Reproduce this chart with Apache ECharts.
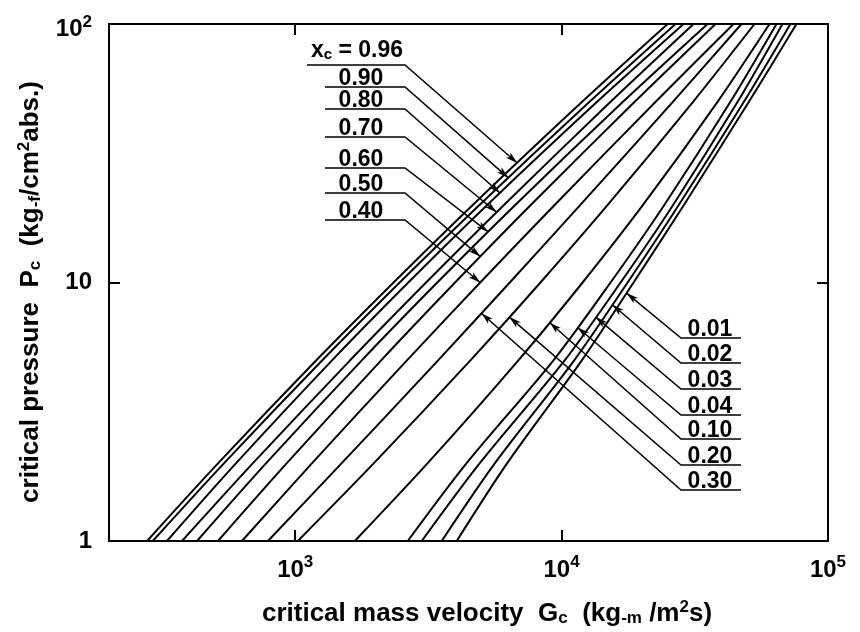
<!DOCTYPE html>
<html>
<head>
<meta charset="utf-8">
<script src="https://cdn.jsdelivr.net/npm/echarts@6/dist/echarts.min.js"></script>
<style>
  html, body { margin: 0; padding: 0; background: #fff; }
  #chart { width: 860px; height: 632px; }
</style>
</head>
<body>
<div id="chart"></div>
<script>
// Critical pressure levels (kg-f/cm2 abs.) at which each curve is sampled
const pressureLevels = [1, 2, 5, 10, 20, 50, 100];

// Critical mass velocity (kg-m/m2 s) for each quality x_c, at the pressure levels above
const g096 = [278, 514, 1200, 2340, 4650, 11940, 25000];
const g090 = [292, 541, 1264, 2467, 4928, 12730, 26780];
const g080 = [330, 600, 1375, 2657, 5270, 13590, 28700];
const g070 = [376, 694, 1607, 3099, 6089, 15270, 31280];
const g060 = [428, 778, 1778, 3414, 6712, 17000, 35310];
const g050 = [513, 930, 2102, 3981, 7675, 18810, 37830];
const g040 = [631, 1157, 2627, 4949, 9434, 22550, 44190];
const g030 = [790, 1495, 3438, 6390, 11780, 26160, 47350];
const g020 = [1023, 1974, 4547, 8330, 14920, 31150, 52980];
const g010 = [1674, 3142, 6882, 11990, 20240, 38490, 60310];
const g004 = [2646, 4400, 9321, 15270, 24330, 43030, 64070];
const g003 = [2986, 4930, 10270, 16650, 26250, 45790, 67470];
const g002 = [3549, 5620, 11150, 17690, 27570, 48340, 72280];
const g001 = [4040, 6250, 11910, 18630, 28820, 50470, 76150];

// Quality labels, left-hand callouts (top to bottom) and right-hand callouts (top to bottom)
const leftQualities  = ['0.96', '0.90', '0.80', '0.70', '0.60', '0.50', '0.40'];
const leftCurves     = [g096, g090, g080, g070, g060, g050, g040];
const leftArrowP     = [29, 25.4, 22.2, 18.7, 15.7, 12.6, 10.0];   // pressure where each arrow meets its curve
const rightQualities = ['0.01', '0.02', '0.03', '0.04', '0.10', '0.20', '0.30'];
const rightCurves    = [g001, g002, g003, g004, g010, g020, g030];
const rightArrowP    = [9.1, 8.2, 7.35, 6.7, 7.0, 7.35, 7.6];

// Axis range and labelled decades
const xRange = [200, 100000];
const yRange = [1, 100];
const xDecades = [1000, 10000, 100000];
const yDecades = [1, 10, 100];

const FONT = '"Liberation Sans", Arial, Helvetica, sans-serif';
const allCurves = [g096, g090, g080, g070, g060, g050, g040, g030, g020, g010, g004, g003, g002, g001];

const chart = echarts.init(document.getElementById('chart'), null, { renderer: 'canvas' });

function isDecade(v, list) {
  return list.some(d => Math.abs(v - d) < d * 1e-6);
}
function powLabel(v) {
  const e = Math.round(Math.log10(v));
  if (e === 0) return '{b|1}';
  if (e === 1) return '{b|10}';
  return '{b|10}{s|' + e + '}';
}
const tickRich = {
  b: { fontFamily: FONT, fontWeight: 'bold', fontSize: 24, color: '#000', lineHeight: 28 },
  s: { fontFamily: FONT, fontWeight: 'bold', fontSize: 17, color: '#000', padding: [0, 0, 15, 0] }
};
const yTickRich = {
  b: { fontFamily: FONT, fontWeight: 'bold', fontSize: 24, color: '#000', lineHeight: 28 },
  s: { fontFamily: FONT, fontWeight: 'bold', fontSize: 17, color: '#000', padding: [0, 0, 15, 0] },
  bt: { fontFamily: FONT, fontWeight: 'bold', fontSize: 24, color: '#000', padding: [11, 0, 0, 0] },
  st: { fontFamily: FONT, fontWeight: 'bold', fontSize: 17, color: '#000', padding: [0, 0, 4, 0] }
};

const frameLine = { show: true, lineStyle: { color: '#000', width: 2 } };
const frameTick = { show: true, inside: true, length: 11, lineStyle: { color: '#000', width: 2 } };

const series = allCurves.map(g => ({
  type: 'line',
  data: pressureLevels.map((p, i) => [g[i], p]),
  showSymbol: false,
  smooth: 0.3,
  silent: true,
  animation: false,
  lineStyle: { color: '#000', width: 2 }
}));

chart.setOption({
  animation: false,
  backgroundColor: '#fff',
  grid: { left: 109, right: 32, top: 24, bottom: 91 },
  xAxis: [
    {
      type: 'log', min: xRange[0], max: xRange[1], position: 'bottom',
      axisLine: frameLine, axisTick: frameTick, splitLine: { show: false },
      axisLabel: {
        margin: 13,
        formatter: v => isDecade(v, xDecades) ? powLabel(v) : '',
        rich: tickRich
      }
    },
    {
      type: 'log', min: xRange[0], max: xRange[1], position: 'top',
      axisLine: frameLine, axisTick: frameTick, splitLine: { show: false },
      axisLabel: { show: false }
    }
  ],
  yAxis: [
    {
      type: 'log', min: yRange[0], max: yRange[1], position: 'left',
      axisLine: frameLine, axisTick: frameTick, splitLine: { show: false },
      axisLabel: {
        margin: 17,
        formatter: v => {
          if (!isDecade(v, yDecades)) return '';
          return Math.round(Math.log10(v)) === 2 ? '{bt|10}{st|2}' : powLabel(v);
        },
        rich: yTickRich
      }
    },
    {
      type: 'log', min: yRange[0], max: yRange[1], position: 'right',
      axisLine: frameLine, axisTick: frameTick, splitLine: { show: false },
      axisLabel: { show: false }
    }
  ],
  series: series
});

// Value of mass velocity on a curve at pressure p, interpolated in log-log space
function gOnCurve(g, p) {
  const lp = Math.log10(p);
  for (let i = 0; i < pressureLevels.length - 1; i++) {
    const a = Math.log10(pressureLevels[i]), b = Math.log10(pressureLevels[i + 1]);
    if (lp >= a && lp <= b) {
      const t = (lp - a) / (b - a);
      return Math.pow(10, Math.log10(g[i]) + t * (Math.log10(g[i + 1]) - Math.log10(g[i])));
    }
  }
  return g[g.length - 1];
}

function arrowHead(from, tip) {
  const dx = tip[0] - from[0], dy = tip[1] - from[1];
  const len = Math.hypot(dx, dy);
  const ux = dx / len, uy = dy / len;
  const L = 12, W = 3.4;
  const bx = tip[0] - ux * L, by = tip[1] - uy * L;
  return [tip, [bx - uy * W, by + ux * W], [tip[0] - ux * (L - 3), tip[1] - uy * (L - 3)], [bx + uy * W, by - ux * W]];
}

const labelRich = {
  t: { fontFamily: FONT, fontWeight: 'bold', fontSize: 23, fill: '#000' },
  sub: { fontFamily: FONT, fontWeight: 'bold', fontSize: 15, fill: '#000', padding: [8, 0, 0, 0] }
};

const graphics = [];

// Left callouts: text sits on an underline whose right end leads to the curve
const leftRows = [65, 87, 109, 137, 168, 193, 220];
leftQualities.forEach((q, i) => {
  const uy = leftRows[i];
  const x0 = i === 0 ? 307 : 325, x1 = 405;
  const tip = chart.convertToPixel({ xAxisIndex: 0, yAxisIndex: 0 },
    [gOnCurve(leftCurves[i], leftArrowP[i]), leftArrowP[i]]);
  graphics.push({
    type: 'polyline', silent: true,
    shape: { points: [[x0, uy], [x1, uy], tip] },
    style: { stroke: '#000', lineWidth: 1.5, fill: null }
  });
  graphics.push({
    type: 'polygon', silent: true,
    shape: { points: arrowHead([x1, uy], tip) },
    style: { fill: '#000' }
  });
  graphics.push({
    type: 'text', silent: true,
    style: {
      x: i === 0 ? 357 : 361, y: i === 0 ? uy - 3 : uy + 3,
      text: i === 0 ? '{t|x}{sub|c}{t| = ' + q + '}' : '{t|' + q + '}',
      rich: labelRich, align: 'center', verticalAlign: 'bottom'
    }
  });
});

// Right callouts: text sits on an underline whose left end leads to the curve
const rightRows = [338, 363, 389, 415, 439, 465, 490];
rightQualities.forEach((q, i) => {
  const uy = rightRows[i];
  const x0 = 681, x1 = 741;
  const tip = chart.convertToPixel({ xAxisIndex: 0, yAxisIndex: 0 },
    [gOnCurve(rightCurves[i], rightArrowP[i]), rightArrowP[i]]);
  graphics.push({
    type: 'polyline', silent: true,
    shape: { points: [[x1, uy], [x0, uy], tip] },
    style: { stroke: '#000', lineWidth: 1.5, fill: null }
  });
  graphics.push({
    type: 'polygon', silent: true,
    shape: { points: arrowHead([x0, uy], tip) },
    style: { fill: '#000' }
  });
  graphics.push({
    type: 'text', silent: true,
    style: {
      x: 710, y: uy + 3, text: '{t|' + q + '}',
      rich: labelRich, align: 'center', verticalAlign: 'bottom'
    }
  });
});

// Axis titles
const titleRich = {
  t: { fontFamily: FONT, fontWeight: 'bold', fontSize: 26, fill: '#000' },
  sub: { fontFamily: FONT, fontWeight: 'bold', fontSize: 17, fill: '#000', padding: [9, 0, 0, 0] },
  sup: { fontFamily: FONT, fontWeight: 'bold', fontSize: 17, fill: '#000', padding: [0, 0, 13, 0] }
};
graphics.push({
  type: 'text', silent: true,
  style: {
    x: 487, y: 614,
    text: '{t|critical mass velocity  G}{sub|c}{t|  (kg}{sub|-m}{t| /m}{sup|2}{t|s)}',
    rich: titleRich, align: 'center', verticalAlign: 'middle'
  }
});
graphics.push({
  type: 'text', silent: true,
  x: 31, y: 292, rotation: Math.PI / 2,
  style: {
    x: 0, y: 0,
    text: '{t|critical pressure  P}{sub|c}{t|  (kg}{sub|-f}{t|/cm}{sup|2}{t|abs.)}',
    rich: titleRich, align: 'center', verticalAlign: 'middle'
  }
});

chart.setOption({ graphic: graphics });
</script>
</body>
</html>
